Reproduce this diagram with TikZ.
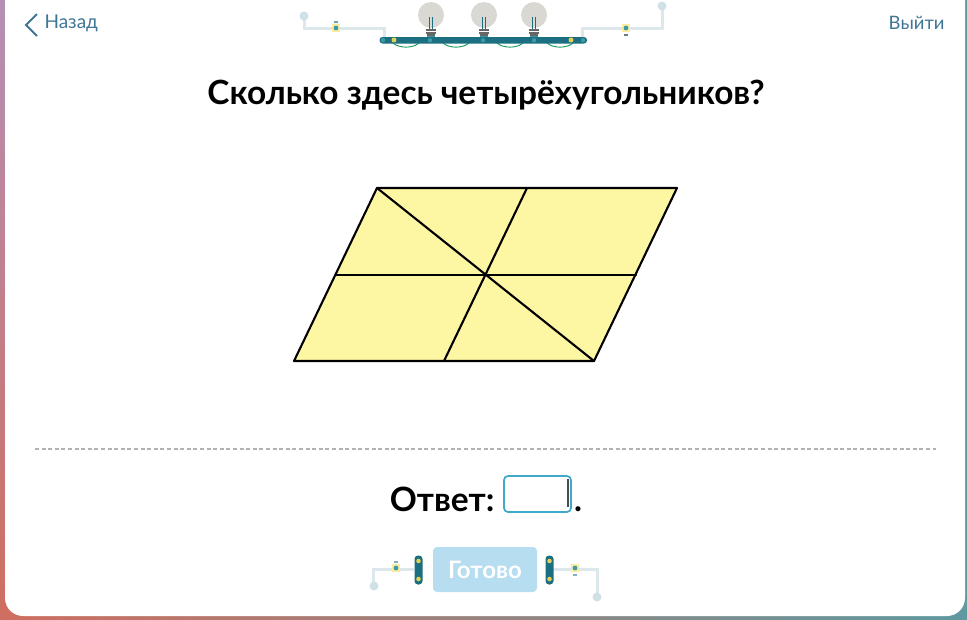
\documentclass[tikz,border=0pt]{standalone}
\usepackage{fontspec}
\setmainfont{Lato}
\usetikzlibrary{positioning,shadings}
\definecolor{wire}{HTML}{DCE8EC}
\definecolor{knob}{HTML}{CFE0E6}
\definecolor{board}{HTML}{1B6F80}
\definecolor{pincol}{HTML}{3E9AA8}
\definecolor{solder}{HTML}{E3CF55}
\definecolor{lamp}{HTML}{D9D8D2}
\definecolor{linkc}{HTML}{3F7695}
\definecolor{paper}{HTML}{FDF6A3}
\definecolor{padcol}{HTML}{FBEDA0}
\definecolor{field}{HTML}{3FA9C9}
\definecolor{donebg}{HTML}{B7DDF0}
\definecolor{backul}{HTML}{B58FB5}
\definecolor{backll}{HTML}{CF6E60}
\definecolor{backr}{HTML}{5E9AA0}
\tikzset{
  wireline/.style={wire,line width=3pt},
  padnode/.style={fill=padcol,minimum size=8pt,inner sep=0pt},
  figline/.style={line width=2.1pt,line cap=round},
  bulb/.pic={
    \fill [lamp] (0,0) circle [radius=13];
    \draw [board,line width=1pt] (-1.8,2) -- (-1.8,14);
    \draw [board,line width=1pt] (1.8,2) -- (1.8,14);
    \fill [pincol] (-4,20) rectangle (4,23);
    \fill [black!60] (-5,14) rectangle (5,16);
    \fill [black!60] (-5,17) rectangle (5,19);
    \fill [black!60] (-4,19) rectangle (4,21);
  },
  clamp/.pic={
    \fill [board,rounded corners=3.5pt] (-4,-14.5) rectangle (4,14.5);
    \fill [solder] (0,-9) circle [radius=2.3];
    \fill [solder] (0,9) circle [radius=2.3];
  }
}
\begin{document}
\begin{tikzpicture}[x=1pt,y=-1pt]
  \useasboundingbox (0,0) rectangle (967,619);
  % backdrop
  \shade [upper left=backul,lower left=backll,upper right=backr,lower right=backr] (0,0) rectangle (967,619);
  \fill [white,rounded corners=18pt] (5,-30) rectangle (965,616);

  % top bar
  \draw [linkc,line width=2pt] (37,14) -- (26,25) -- (37,36);
  \node (back) [anchor=west,text=linkc,font=\fontsize{19}{21}\selectfont] at (41,23.5) {Назад};
  \node (quit) [anchor=east,text=linkc,font=\fontsize{18.5}{20}\selectfont] at (948,23) {Выйти};

  \draw [wireline] (304,17) -- (304,28) -- (384,28) -- (384,40);
  \draw [wireline] (582,40) -- (582,28) -- (662,28) -- (662,6);
  \fill [knob] (304,16) circle [radius=4.5];
  \fill [knob] (662,6) circle [radius=4.5];
  \node (padl) [padnode] at (336,28) {};
  \node (padr) [padnode] at (626,28) {};
  \fill [pincol] (336,28) circle [radius=2.4];
  \fill [pincol] (626,28) circle [radius=2.4];
  \fill [linkc!70] (334,21) rectangle (338,22.5);
  \fill [linkc!40!gray] (624,34) rectangle (628,35.5);

  \foreach \x in {431,484,534} {
    \pic at (\x,15) {bulb};
  }
  \foreach \x in {393,443,497,547} {
    \draw [board!70!green,line width=0.9pt] (\x,43) .. controls (\x+6,48.5) and (\x+20,48.5) .. (\x+26,43);
  }
  \fill [board,rounded corners=3pt] (379.5,37) rectangle (587,43.5);
  \foreach \x in {383,430,483,534,583} {
    \fill [pincol] (\x,40.2) circle [radius=2.2];
  }
  \fill [solder] (394,40) circle [radius=2.5];
  \fill [solder] (571,40) circle [radius=2.5];

  % question
  \node (title) [font=\fontsize{33.4}{36}\selectfont\bfseries] at (486,95) {Сколько здесь четырёхугольников?};

  % figure
  \coordinate (a) at (377,188);
  \coordinate (b) at (677,188);
  \coordinate (c) at (594,361);
  \coordinate (d) at (294,361);
  \coordinate (ab) at (527,188);
  \coordinate (dc) at (444,361);
  \coordinate (da) at (336,275);
  \coordinate (bc) at (636,275);
  \draw [fill=paper,figline,line join=round] (a) -- (b) -- (c) -- (d) -- cycle;
  \draw [figline] (da) -- (bc);
  \draw [figline] (ab) -- (dc);
  \draw [figline] (a) -- (c);

  \draw [black!30,line width=1.2pt,dash pattern=on 4pt off 2.6pt] (35,449) -- (936,449);

  % answer
  \node (answer) [anchor=east,font=\fontsize{33.5}{36}\selectfont\bfseries] at (498,499.5) {Ответ:};
  \node (field) [draw=field,line width=1.7pt,rounded corners=4pt,minimum width=67pt,minimum height=36pt,inner sep=0pt] at (537.5,494) {};
  \draw [black!70,line width=1.2pt] (568,479) -- (568,507);
  \node (dot) [anchor=base west,font=\fontsize{33.5}{36}\selectfont\bfseries,inner sep=0pt] at (574,511) {.};

  % done button
  \node (done) [fill=donebg,rounded corners=4pt,minimum width=104pt,minimum height=45pt,inner sep=0pt,text=white,font=\fontsize{24}{26}\selectfont\bfseries] at (485,569.5) {Готово};
  \draw [wireline] (414,569) -- (373,569) -- (373,586);
  \draw [wireline] (552,569) -- (597,569) -- (597,597);
  \fill [knob] (374,586) circle [radius=4.5];
  \fill [knob] (597,597) circle [radius=4.5];
  \node (padm) [padnode] at (396,568) {};
  \node (padn) [padnode] at (575,568) {};
  \fill [pincol] (396,568) circle [radius=2.4];
  \fill [pincol] (575,568) circle [radius=2.4];
  \fill [linkc!60] (394,561) rectangle (398,562.5);
  \fill [linkc!60] (573,574) rectangle (577,575.5);
  \pic at (418.5,570) {clamp};
  \pic at (549.5,570) {clamp};
\end{tikzpicture}
\end{document}
